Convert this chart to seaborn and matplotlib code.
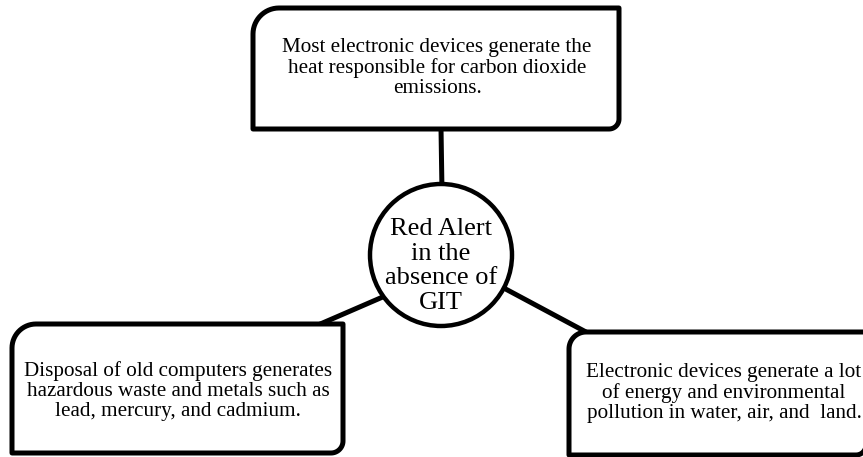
import numpy as np
import matplotlib.pyplot as plt
import seaborn as sns
from matplotlib.path import Path
from matplotlib.patches import PathPatch, Circle

# Textos del diagrama
centro_texto = "Red Alert\nin the\nabsence of\nGIT"
cajas_texto = [
    "Most electronic devices generate the\nheat responsible for carbon dioxide\nemissions.",
    "Disposal of old computers generates\nhazardous waste and metals such as\nlead, mercury, and cadmium.",
    "Electronic devices generate a lot\nof energy and environmental\npollution in water, air, and  land.",
]

sns.set_theme(style="white")
plt.rcParams['font.family'] = ['Liberation Serif', 'DejaVu Serif']
plt.rcParams['text.color'] = 'black'

W, H = 863, 457
fig = plt.figure(figsize=(W / 100, H / 100), dpi=100)
ax = fig.add_axes([0, 0, 1, 1])
ax.set_xlim(0, W)
ax.set_ylim(H, 0)
ax.axis('off')


def caja_redondeada(x0, y0, x1, y1, r):
    # r = radios (sup-izq, sup-der, inf-der, inf-izq); y crece hacia abajo
    tl, tr, br, bl = r
    pts = []

    def arco(cx, cy, rad, a0, a1):
        if rad == 0:
            pts.append((cx, cy))
            return
        for a in np.linspace(a0, a1, 16):
            pts.append((cx + rad * np.cos(a), cy + rad * np.sin(a)))

    arco(x0 + tl, y0 + tl, tl, np.pi, 1.5 * np.pi)
    arco(x1 - tr, y0 + tr, tr, 1.5 * np.pi, 2 * np.pi)
    arco(x1 - br, y1 - br, br, 0, 0.5 * np.pi)
    arco(x0 + bl, y1 - bl, bl, 0.5 * np.pi, np.pi)
    pts.append(pts[0])
    codes = [Path.MOVETO] + [Path.LINETO] * (len(pts) - 2) + [Path.CLOSEPOLY]
    return PathPatch(Path(pts, codes), facecolor='white', edgecolor='black',
                     lw=3.6, joinstyle='round', zorder=2)


cx, cy, rad = 441, 255, 71

# Conectores
ax.plot([441, 443], [128, cy], color='black', lw=3.6, zorder=1)
ax.plot([318, 385], [325, 296], color='black', lw=3.6, zorder=1)
ax.plot([586, 500], [332, 286], color='black', lw=3.6, zorder=1)

# Cajas
cajas = [
    ((253, 8, 619, 129), (26, 0, 10, 0), (437, 68)),
    ((12, 324, 343, 453), (24, 0, 12, 0), (178, 391)),
    ((569, 332, 866, 455), (17, 0, 10, 0), (724, 393)),
]
for (x0, y0, x1, y1), r, _ in cajas:
    ax.add_patch(caja_redondeada(x0, y0, x1, y1, r))

for (_, _, (tx, ty)), txt in zip(cajas, cajas_texto):
    ax.text(tx, ty, txt, ha='center', va='center', fontsize=15.2,
            linespacing=1.06, zorder=3)

# Círculo central
ax.add_patch(Circle((cx, cy), rad, facecolor='white', edgecolor='black',
                    lw=3.2, zorder=2))
ax.text(cx, cy + 11, centro_texto, ha='center', va='center', fontsize=19,
        linespacing=1.16, zorder=3)

fig.savefig('out.png', dpi=100)
